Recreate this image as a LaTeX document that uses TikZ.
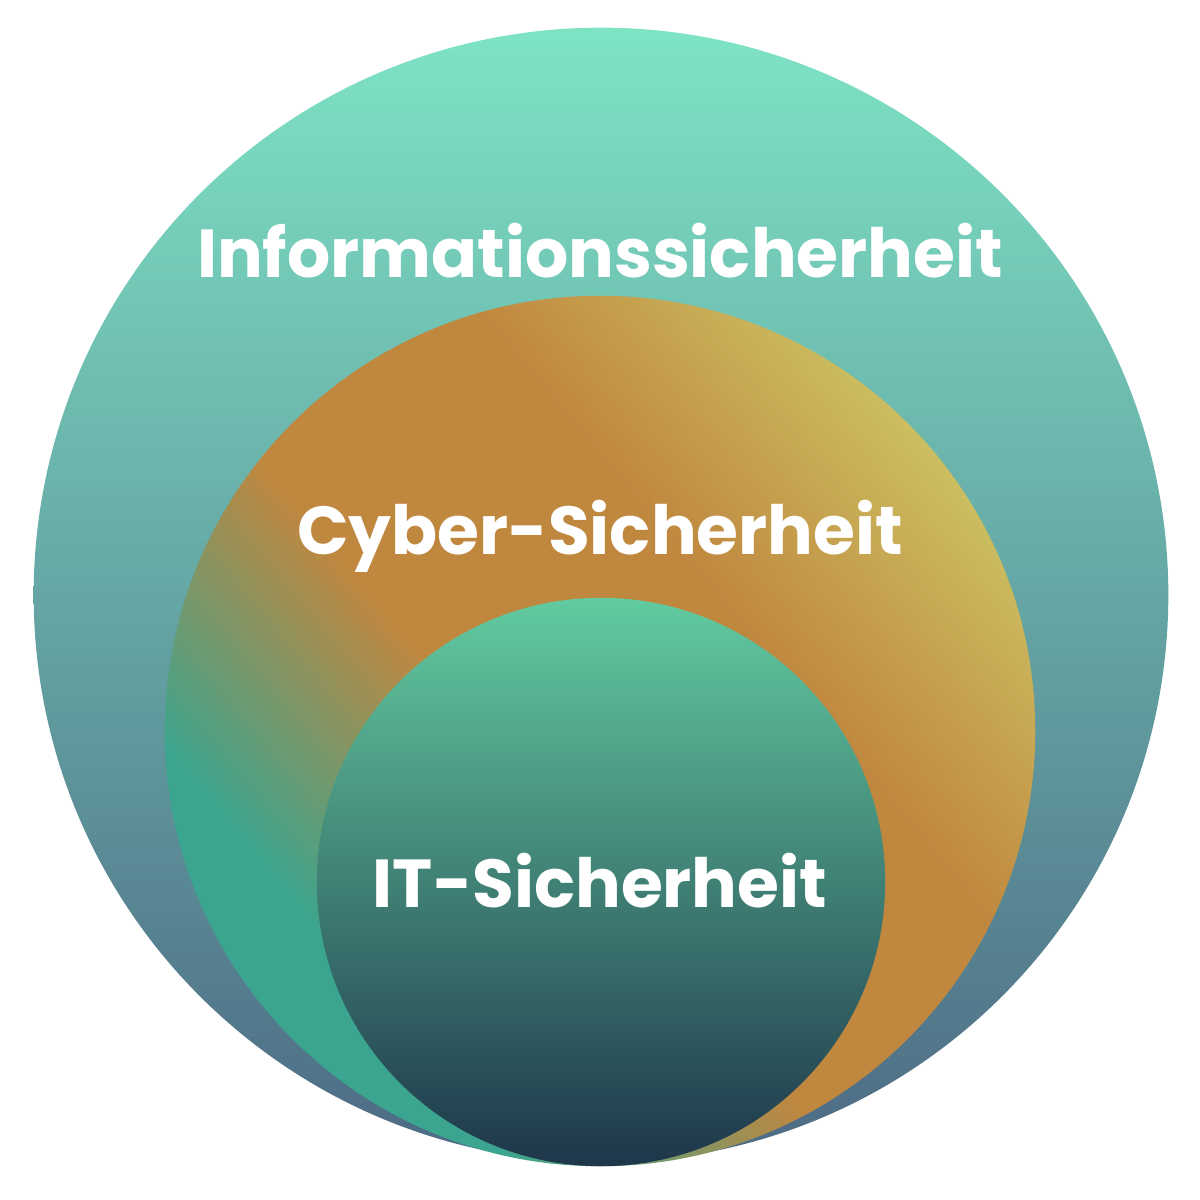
\documentclass[tikz,border=0pt]{standalone}
\usepackage{fontspec}
\setmainfont{Poppins}[UprightFont=* Bold]
\definecolor{outtop}{HTML}{7EE3C5}
\definecolor{outmid}{HTML}{68AEC6}
\definecolor{outbot}{HTML}{4D6A84}
\definecolor{inntop}{HTML}{62CBA0}
\definecolor{innmid}{HTML}{4290A2}
\definecolor{innbot}{HTML}{1E364A}
\definecolor{cyteal}{HTML}{3BA58F}
\definecolor{cyorange}{HTML}{C0873F}
\definecolor{cyyellow}{HTML}{CFD06C}
\pgfdeclarehorizontalshading{cybershade}{100bp}{color(0bp)=(cyteal); color(30bp)=(cyteal); color(45bp)=(cyorange); color(60bp)=(cyorange); color(80bp)=(cyyellow); color(100bp)=(cyyellow)}
\tikzset{
  lbl/.style={text=white, font=\fontsize{19.3}{23}\selectfont, inner sep=0pt, anchor=base},
}
\begin{document}
\begin{tikzpicture}[x=0.01cm,y=-0.01cm]
\useasboundingbox (0,0) rectangle (1200,1200);
\fill[white] (0,0) rectangle (1200,1200);
\shade[top color=outtop, middle color=outmid, bottom color=outbot] (601,595) circle (5.67cm);
\shade[shading=cybershade, shading angle=40] (600,731) circle (4.35cm);
\shade[top color=inntop, middle color=innmid, bottom color=innbot] (601,882) circle (2.84cm);
\node[lbl] (info) at (600,277) {Informationssicherheit};
\node[lbl] (cyber) at (600,554) {Cyber-Sicherheit};
\node[lbl] (it) at (600,907) {IT-Sicherheit};
\end{tikzpicture}
\end{document}
